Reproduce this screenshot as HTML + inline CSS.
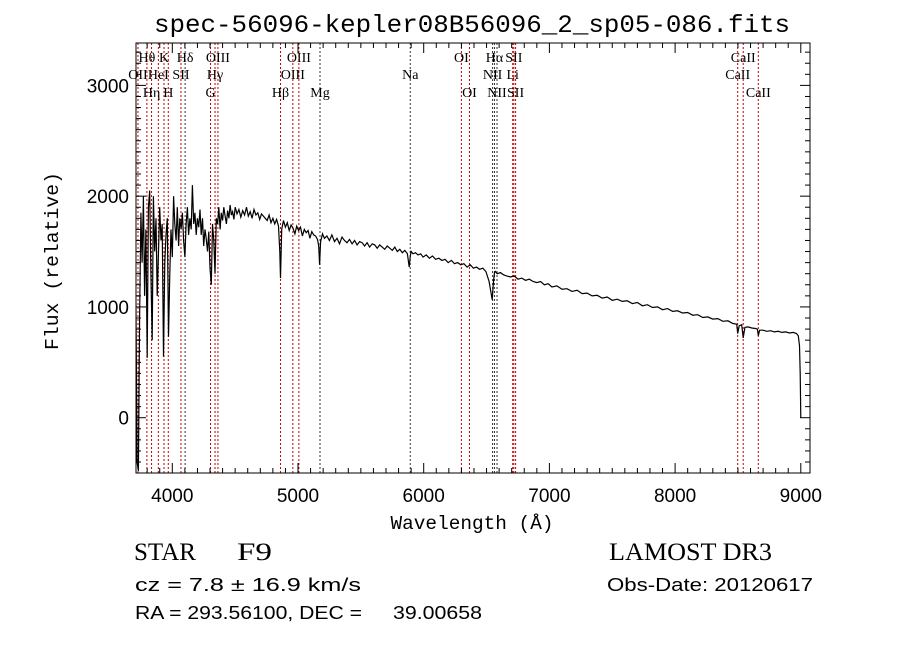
<!DOCTYPE html>
<html><head><meta charset="utf-8"><style>
html,body{margin:0;padding:0;background:#fff;}
svg{display:block;}
text{font-family:"Liberation Sans",sans-serif;fill:#000;white-space:pre;}
.serif{font-family:"Liberation Serif",serif;}
.mono{font-family:"Liberation Mono",monospace;}
</style></head><body>
<svg id="chart" width="900" height="649" viewBox="0 0 900 649">
<rect width="900" height="649" fill="#fff"/>
<text x="472" y="32" text-anchor="middle" class="mono" font-size="25" textLength="636" lengthAdjust="spacingAndGlyphs">spec-56096-kepler08B56096_2_sp05-086.fits</text>
<defs><clipPath id="clip"><rect x="136" y="43" width="674" height="430"/></clipPath></defs>
<g id="lines" clip-path="url(#clip)"></g>
<g id="labels"></g>
<g id="series" clip-path="url(#clip)"></g>
<rect x="136" y="43" width="674" height="430" fill="none" stroke="#000" stroke-width="1"/>
<g id="ticks"></g>
<text x="472" y="529" text-anchor="middle" class="mono" font-size="19" textLength="163" lengthAdjust="spacingAndGlyphs">Wavelength (Å)</text>
<text x="0" y="0" transform="translate(58,261) rotate(-90)" text-anchor="middle" class="mono" font-size="19" textLength="178" lengthAdjust="spacingAndGlyphs">Flux (relative)</text>
<text x="134" y="560" class="serif" font-size="25" textLength="62" lengthAdjust="spacingAndGlyphs">STAR</text>
<text x="237" y="560" class="serif" font-size="25" textLength="35" lengthAdjust="spacingAndGlyphs">F9</text>
<text x="609" y="560" class="serif" font-size="25" textLength="163" lengthAdjust="spacingAndGlyphs">LAMOST DR3</text>
<text x="135" y="591" font-size="18" textLength="226" lengthAdjust="spacingAndGlyphs">cz = 7.8 ± 16.9 km/s</text>
<text x="607" y="591" font-size="18" textLength="206" lengthAdjust="spacingAndGlyphs">Obs-Date: 20120617</text>
<text x="135" y="619" font-size="18" textLength="227" lengthAdjust="spacingAndGlyphs">RA = 293.56100, DEC =</text>
<text x="393" y="619" font-size="18" textLength="89" lengthAdjust="spacingAndGlyphs">39.00658</text>
</svg>
<script>
const wavelengths=[3700,3710,3720,3730,3740,3750,3760,3770,3780,3790,3800,3810,3820,3830,3840,3850,3860,3870,3880,3890,3900,3910,3920,3930,3940,3950,3960,3970,3980,3990,4000,4010,4020,4030,4040,4050,4060,4070,4080,4090,4100,4110,4120,4130,4140,4150,4160,4170,4180,4190,4200,4210,4220,4230,4240,4250,4260,4270,4280,4290,4300,4310,4320,4330,4340,4350,4360,4370,4380,4390,4400,4410,4420,4430,4440,4450,4460,4470,4480,4490,4500,4515,4530,4545,4560,4575,4590,4605,4620,4635,4650,4665,4680,4695,4710,4725,4740,4755,4770,4785,4800,4815,4830,4845,4855,4861,4870,4885,4900,4915,4930,4945,4960,4975,4990,5005,5020,5035,5050,5065,5080,5095,5110,5125,5140,5155,5165,5172,5180,5195,5210,5230,5250,5270,5290,5310,5330,5350,5370,5390,5410,5430,5450,5470,5490,5510,5530,5550,5570,5590,5610,5630,5650,5670,5690,5710,5730,5750,5770,5790,5810,5830,5850,5870,5885,5893,5900,5915,5935,5955,5975,5995,6020,6045,6070,6095,6120,6145,6170,6195,6220,6245,6270,6295,6320,6345,6370,6395,6420,6445,6470,6495,6520,6545,6556,6563,6570,6585,6610,6635,6660,6690,6720,6750,6780,6810,6840,6870,6900,6930,6960,6990,7020,7060,7100,7140,7180,7220,7260,7300,7340,7380,7420,7460,7500,7540,7580,7620,7660,7700,7740,7780,7820,7860,7900,7940,7980,8020,8060,8100,8140,8180,8220,8260,8300,8340,8380,8420,8460,8490,8498,8510,8530,8542,8555,8580,8610,8640,8655,8662,8672,8700,8730,8760,8790,8820,8850,8880,8910,8940,8965,8980,8990,8995,9000];
const fluxes=[1750,1200,-400,-480,900,1850,1400,2000,1100,1700,540,1900,2050,1300,700,2000,1500,1800,1100,1500,1900,1600,1750,550,1400,1650,1800,730,1300,1700,1450,2000,1750,1600,1900,1550,1800,1700,1850,1600,1450,1750,1900,1650,1800,1700,2100,1750,1850,1650,1800,1720,1880,1650,1800,1550,1700,1620,1500,1680,1350,1200,1750,1600,1300,1800,1750,1900,1700,1850,1780,1900,1820,1750,1870,1800,1920,1830,1860,1790,1900,1840,1880,1810,1870,1830,1900,1820,1860,1800,1880,1830,1850,1790,1840,1820,1800,1780,1830,1760,1800,1750,1790,1730,1500,1260,1700,1780,1720,1760,1690,1740,1710,1660,1730,1690,1720,1640,1700,1670,1690,1620,1680,1650,1640,1610,1550,1380,1590,1660,1620,1640,1600,1650,1590,1620,1570,1630,1600,1580,1610,1570,1600,1560,1590,1580,1550,1580,1540,1570,1560,1530,1560,1540,1520,1550,1530,1510,1540,1500,1520,1490,1510,1480,1360,1460,1500,1480,1490,1470,1480,1450,1470,1440,1460,1430,1440,1420,1430,1400,1420,1390,1400,1380,1390,1360,1380,1350,1360,1340,1350,1320,1230,1065,1240,1310,1320,1300,1310,1290,1280,1270,1280,1250,1260,1240,1250,1230,1220,1230,1200,1210,1180,1190,1160,1165,1140,1150,1120,1125,1100,1105,1080,1090,1060,1070,1050,1055,1030,1040,1010,1020,995,1000,975,985,960,965,945,950,925,930,905,910,890,895,870,875,850,845,760,830,840,720,815,820,810,805,800,740,790,790,780,785,775,780,770,775,765,770,760,740,650,400,0];
const lineWaves=[3727,3798,3835,3889,3934,3968,4069,4102,4304,4340,4363,4861,4959,5007,5175,5893,6300,6364,6548,6563,6583,6708,6717,6731,8498,8542,8662];
const lineNames=["OII","Hθ","Hη","HeI","K","H","SII","Hδ","G","Hγ","OIII","Hβ","OIII","OIII","Mg","Na","OI","OI","NII","Hα","NII","Li","SII","SII","CaII","CaII","CaII"];
const lineRows=[1,0,2,1,0,2,1,0,2,1,0,2,1,0,2,1,0,2,1,0,2,1,0,2,1,0,2];
const lineBlack=[0,0,0,0,0,0,0,1,0,0,0,0,0,0,1,1,0,0,1,1,1,0,0,0,0,0,0];
const xTicks=[4000,5000,6000,7000,8000,9000];
const yTicks=[0,1000,2000,3000];
const NS="http://www.w3.org/2000/svg";
const X0=136,X1=810,Y0=473,Y1=43;
function xs(w){return 172.3+(w-4000)*0.1257;}
function ys(f){return 417.7-f*0.11077;}
function mk(t,a,p){const e=document.createElementNS(NS,t);for(const k in a)e.setAttribute(k,a[k]);p.appendChild(e);return e;}
const gL=document.getElementById('lines'),gT=document.getElementById('labels'),gS=document.getElementById('series'),gK=document.getElementById('ticks');
const rowY=[62,79,97];
lineWaves.forEach((w,i)=>{
  const x=xs(w);
  const l=mk('line',{x1:x,x2:x,y1:Y1,y2:Y0,stroke:lineBlack[i]?'#333':'#c00000','stroke-width':1,'stroke-dasharray':'2,2'},gL);
  
  
  const t=mk('text',{x:x,y:rowY[lineRows[i]],'text-anchor':'middle','font-size':14,'class':'serif'},gT);
  t.textContent=lineNames[i];
  
  
});
let d='';
wavelengths.forEach((w,i)=>{d+=(i?'L':'M')+xs(w).toFixed(1)+','+ys(fluxes[i]).toFixed(1);});
const p=mk('path',{d:d,fill:'none',stroke:'#000','stroke-width':1.2,'stroke-linejoin':'miter'},gS);


for(let w=3800;w<=9000;w+=100){
  const x=xs(w),maj=w%1000===0,L=maj?10:5;
  mk('line',{x1:x,x2:x,y1:Y0,y2:Y0-L,stroke:'#000'},gK);
  mk('line',{x1:x,x2:x,y1:Y1,y2:Y1+L,stroke:'#000'},gK);
}
for(let f=-400;f<=3300;f+=100){
  const y=ys(f),maj=f%1000===0,L=maj?10:5;
  mk('line',{x1:X0,x2:X0+L,y1:y,y2:y,stroke:'#000'},gK);
  mk('line',{x1:X1,x2:X1-L,y1:y,y2:y,stroke:'#000'},gK);
}
xTicks.forEach(v=>{
  const t=mk('text',{x:xs(v),y:502,'text-anchor':'middle','font-size':19},gK);
  t.textContent=v;
  
  
});
yTicks.forEach(v=>{
  const t=mk('text',{x:129,y:ys(v)+7,'text-anchor':'end','font-size':19},gK);
  t.textContent=v;
  
  
});
</script>
</body></html>
